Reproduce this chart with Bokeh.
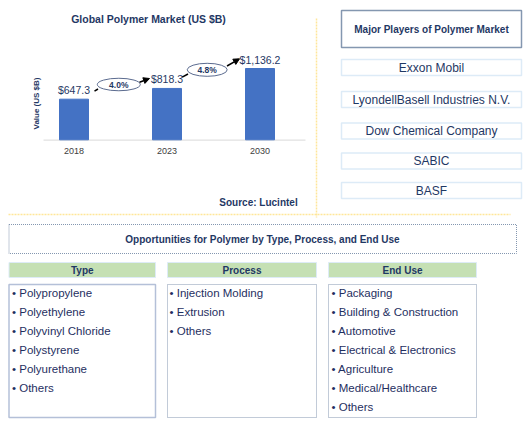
import math
from bokeh.plotting import figure
from bokeh.models import Range1d, Arrow, NormalHead
from bokeh.core.properties import value
from bokeh.embed import file_html
from bokeh.resources import INLINE

# ---------------- data ----------------
years = ["2018", "2023", "2030"]
market_values = [647.3, 818.3, 1136.2]
value_labels = ["$647.3", "$818.3", "$1,136.2"]
cagr_labels = ["4.0%", "4.8%"]
chart_title = "Global Polymer Market (US $B)"
y_label = "Value (US $B)"
source_text = "Source: Lucintel"
players_title = "Major Players of Polymer Market"
players = ["Exxon Mobil", "LyondellBasell Industries N.V.", "Dow Chemical Company", "SABIC", "BASF"]
opp_title = "Opportunities for Polymer by Type, Process, and End Use"
seg_headers = ["Type", "Process", "End Use"]
type_items = ["Polypropylene", "Polyethylene", "Polyvinyl Chloride", "Polystyrene", "Polyurethane", "Others"]
process_items = ["Injection Molding", "Extrusion", "Others"]
enduse_items = ["Packaging", "Building & Construction", "Automotive", "Electrical & Electronics",
                "Agriculture", "Medical/Healthcare", "Others"]

# ---------------- styles ----------------
FONT = value("Liberation Sans")
NAVY = "#1F3864"
ITEM = "#1F2F5F"
BAR = "#4472C4"

W, H = 528, 427
X0, X1, Y0, Y1 = 0, 528, 0, 427
p = figure(width=W, height=H, x_range=Range1d(X0, X1), y_range=Range1d(Y1, Y0),
           x_axis_type=None, y_axis_type=None, toolbar_location=None,
           output_backend="svg", min_border=0, outline_line_color=None)
p.grid.visible = False
p.background_fill_color = "white"

# bar chart scales (extra ranges)
bar_center0, bar_step = 73.5, 93.0
base_px, px_per_unit = 139.3, 71.3 / 1136.2
p.extra_x_ranges = {"yr": Range1d(-(bar_center0 - X0) / bar_step, (X1 - bar_center0) / bar_step)}
p.extra_y_ranges = {"val": Range1d(-(Y1 - base_px) / px_per_unit, (base_px - Y0) / px_per_unit)}
idx = list(range(len(years)))

# title
p.text(x=[148], y=[18], text=[chart_title], text_font=FONT, text_font_size=value("10.5px"),
       text_font_style="bold", text_color=NAVY, text_align="center", text_baseline="middle")

# baseline
p.line(x=[43, 305], y=[139.6, 139.6], line_color="#D9D9D9", line_width=1)

# bars
p.vbar(x=idx, top=market_values, bottom=0, width=29 / bar_step, x_range_name="yr",
       y_range_name="val", fill_color=BAR, line_color=BAR)

p.text(x=idx, y=market_values, text=value_labels, x_range_name="yr", y_range_name="val",
       y_offset=-9, text_font=FONT, text_font_size=value("10.5px"), text_color=NAVY,
       text_align="center", text_baseline="middle")
p.text(x=idx, y=[0] * 3, text=years, x_range_name="yr", y_range_name="val",
       y_offset=11, text_font=FONT, text_font_size=value("9px"), text_color="#404040",
       text_align="center", text_baseline="middle")

# y label
p.text(x=[36], y=[103], text=[y_label], angle=math.pi / 2, text_font=FONT,
       text_font_size=value("8px"), text_font_style="bold", text_color=NAVY,
       text_align="center", text_baseline="middle")

# CAGR ellipses and arrows
ell_x, ell_y, ell_w, ell_h = [118.3, 206.7], [84, 69.3], [43, 40], [12.5, 13]
p.segment(x0=[94, 181.7], y0=[90.7, 76.7], x1=[97.5, 187.5], y1=[88.5, 73.5],
          line_color="black", line_width=1.5)
for xs, ys, xe, ye in [(139, 81.7, 149, 78), (226.5, 65.5, 239, 58.3)]:
    p.add_layout(Arrow(end=NormalHead(size=6, fill_color="black", line_color="black"),
                       x_start=xs, y_start=ys, x_end=xe, y_end=ye,
                       line_color="black", line_width=1.5))
p.ellipse(x=ell_x, y=ell_y, width=ell_w, height=ell_h, fill_color="white",
          line_color="#5B6B8F", line_width=1)
p.text(x=ell_x, y=ell_y, text=cagr_labels, text_font=FONT, text_font_size=value("8.5px"),
       text_font_style="bold", text_color=NAVY, text_align="center", text_baseline="middle")

# source
p.text(x=[258], y=[202], text=[source_text], text_font=FONT, text_font_size=value("10px"),
       text_font_style="bold", text_color=NAVY, text_align="center", text_baseline="middle")

# yellow separators
p.line(x=[8, 510], y=[214, 214], line_color="#FFE699", line_width=1.5, line_dash="2 1")
p.line(x=[316, 316], y=[18, 217], line_color="#FFE699", line_width=1.5, line_dash="2 1")

# major players
p.quad(left=[341], right=[521], top=[10], bottom=[47], fill_color="white",
       line_color="#8497B0", line_width=1.5)
p.text(x=[431], y=[28.5], text=[players_title], text_font=FONT, text_font_size=value("10px"),
       text_font_style="bold", text_color=NAVY, text_align="center", text_baseline="middle")
player_y = [67, 99, 130.5, 160.5, 190]
p.quad(left=[341] * 5, right=[521] * 5, top=[y - 8 for y in player_y],
       bottom=[y + 8 for y in player_y], fill_color="white", line_color="#DDEBF7", line_width=1.5)
p.text(x=[431] * 5, y=player_y, text=players, text_font=FONT, text_font_size=value("12px"),
       text_color=NAVY, text_align="center", text_baseline="middle")

# opportunities box
p.quad(left=[8.5], right=[516], top=[224], bottom=[253], fill_color="white",
       line_color="#8497B0", line_width=1, line_dash="1 1")
p.text(x=[262], y=[239], text=[opp_title], text_font=FONT, text_font_size=value("10px"),
       text_font_style="bold", text_color=NAVY, text_align="center", text_baseline="middle")

# segment headers
col_left = [8.5, 167, 328]
col_right = [155, 316, 476]
p.quad(left=col_left, right=col_right, top=[262] * 3, bottom=[277] * 3,
       fill_color="#C5E0B4", line_color="#DDEBF7", line_width=1)
p.text(x=[(a + b) / 2 for a, b in zip(col_left, col_right)], y=[269.5] * 3, text=seg_headers,
       text_font=FONT, text_font_size=value("10px"), text_font_style="bold", text_color=NAVY,
       text_align="center", text_baseline="middle")

# list boxes
p.quad(left=[col_left[0]], right=[col_right[0]], top=[284], bottom=[417], fill_color="white",
       line_color="#B4C0D8", line_width=1.5)
p.quad(left=col_left[1:], right=col_right[1:], top=[284] * 2, bottom=[417] * 2,
       fill_color="white", line_color="#8497B0", line_width=1, line_dash="1 1")

item_x = [11.5, 169, 331]
for xi, items in zip(item_x, [type_items, process_items, enduse_items]):
    p.text(x=[xi] * len(items), y=[292.3 + 19 * k for k in range(len(items))],
           text=["\u2022 " + t for t in items], text_font=FONT, text_font_size=value("11.5px"),
           text_color=ITEM, text_align="left", text_baseline="middle")

open("out.html", "w").write(file_html(p, INLINE))
